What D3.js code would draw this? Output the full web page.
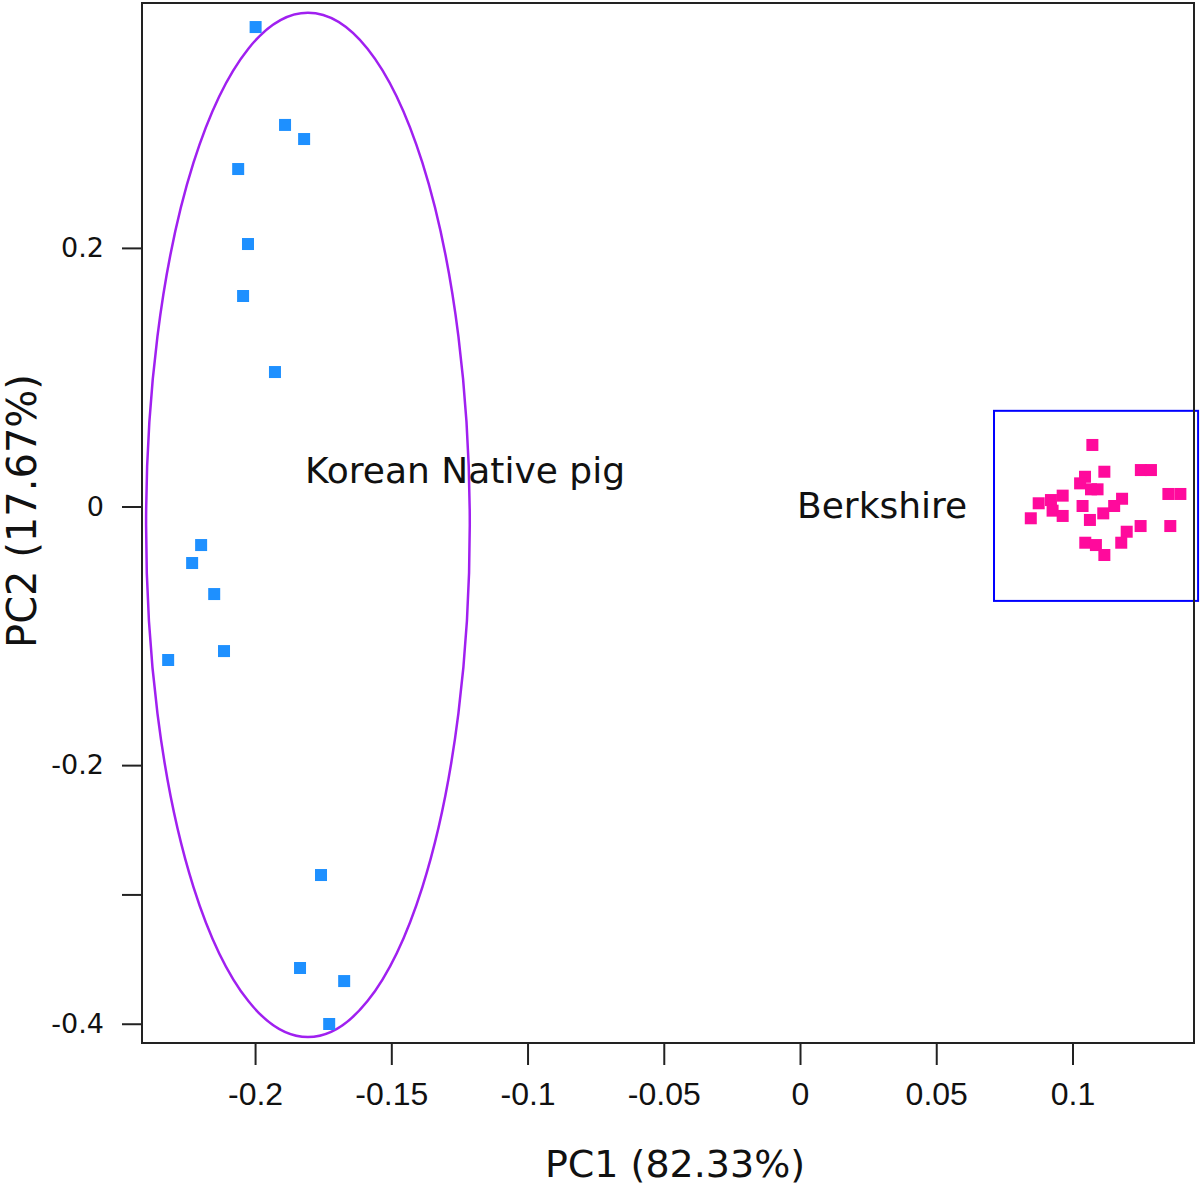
<!DOCTYPE html>
<head>
<meta charset="utf-8">
<style>
body { margin: 0; background: #fff; }
svg { display: block; }
.tick line { stroke: #222; stroke-width: 2px; }
.xaxis text { font-family: "Liberation Sans", Arial, sans-serif; font-size: 32px; fill: #111; }
.yaxis text { font-family: "DejaVu Sans", sans-serif; font-size: 27px; fill: #111; }
.title { font-family: "DejaVu Sans", sans-serif; font-size: 38px; fill: #111; }
.grp { font-family: "DejaVu Sans", sans-serif; font-size: 36px; fill: #111; }
</style>
</head>
<body>
<svg width="1200" height="1185"></svg>
<script src="https://d3js.org/d3.v7.min.js"></script>
<script>
// PCA scores, Korean Native pig
var knpPC1 = [-0.1998, -0.1890, -0.1820, -0.2062, -0.2026, -0.2044, -0.1927, -0.2198,
              -0.2231, -0.2150, -0.2114, -0.2319, -0.1758, -0.1835, -0.1673, -0.1728];
var knpPC2 = [0.3708, 0.2951, 0.2842, 0.2610, 0.2030, 0.1628, 0.1040, -0.0298,
              -0.0437, -0.0677, -0.1118, -0.1187, -0.2850, -0.3569, -0.3670, -0.4002];

// PCA scores, Berkshire
var berkPC1 = [0.1073, 0.1117, 0.1251, 0.1288, 0.1046, 0.1028, 0.1068, 0.1092, 0.1352, 0.1396,
               0.0964, 0.0921, 0.0876, 0.1182, 0.1153, 0.1037, 0.0927, 0.0964, 0.1113, 0.1064,
               0.0847, 0.1250, 0.1359, 0.1199, 0.1179, 0.1047, 0.1086, 0.1117];
var berkPC2 = [0.0476, 0.0269, 0.0282, 0.0282, 0.0230, 0.0179, 0.0133, 0.0133, 0.0097, 0.0097,
               0.0084, 0.0050, 0.0025, 0.0060, 0.0004, 0.0004, -0.0032, -0.0073, -0.0053, -0.0104,
               -0.0091, -0.0151, -0.0151, -0.0195, -0.0280, -0.0280, -0.0298, -0.0375];

// group outlines in data units: ellipse [cx, cy, rx, ry], box [x0, y0, x1, y1]
var knpEllipse = [-0.1806, -0.0142, 0.0594, 0.3961];
var berkBox = [0.0712, 0.0740, 0.1461, -0.0730];

var xTicks = [-0.2, -0.15, -0.1, -0.05, 0, 0.05, 0.1];
var xLabels = ["-0.2", "-0.15", "-0.1", "-0.05", "0", "0.05", "0.1"];
var yTicks = [0.2, 0, -0.2, -0.3, -0.4];
var yLabels = ["0.2", "0", "-0.2", "", "-0.4"];

var svg = d3.select("svg");
// plot frame edges (don't use "top", it's window.top)
var pLeft = 142, pRight = 1194, pTop = 3, pBottom = 1043;

var x = d3.scaleLinear().domain([-0.2415, 0.1446]).range([pLeft, pRight]);
var y = d3.scaleLinear().domain([0.3894, -0.4149]).range([pTop, pBottom]);

// x axis
var gx = svg.append("g").attr("class", "xaxis")
  .attr("transform", "translate(0," + (pBottom + 1) + ")")
  .call(d3.axisBottom(x).tickValues(xTicks).tickSize(21).tickPadding(17)
    .tickFormat(function(d, i) { return xLabels[i]; }));
gx.select(".domain").remove();

// y axis
var gy = svg.append("g").attr("class", "yaxis")
  .attr("transform", "translate(" + pLeft + ",0)")
  .call(d3.axisLeft(y).tickValues(yTicks).tickSize(20).tickPadding(18)
    .tickFormat(function(d, i) { return yLabels[i]; }));
gy.select(".domain").remove();

// group outlines
svg.append("ellipse")
  .attr("cx", x(knpEllipse[0])).attr("cy", y(knpEllipse[1]))
  .attr("rx", x(knpEllipse[0] + knpEllipse[2]) - x(knpEllipse[0]))
  .attr("ry", y(knpEllipse[1] - knpEllipse[3]) - y(knpEllipse[1]))
  .attr("fill", "none").attr("stroke", "#a020f0").attr("stroke-width", 2.5);

svg.append("rect")
  .attr("x", x(berkBox[0])).attr("y", y(berkBox[1]))
  .attr("width", x(berkBox[2]) - x(berkBox[0]))
  .attr("height", y(berkBox[3]) - y(berkBox[1]))
  .attr("fill", "none").attr("stroke", "#0000ff").attr("stroke-width", 2);

// plot frame
svg.append("rect")
  .attr("x", pLeft).attr("y", pTop)
  .attr("width", pRight - pLeft).attr("height", pBottom - pTop)
  .attr("fill", "none").attr("stroke", "#222").attr("stroke-width", 2);

// points
var sq = 12;
svg.append("g").selectAll("rect")
  .data(d3.range(knpPC1.length))
  .enter().append("rect")
  .attr("x", function(i) { return x(knpPC1[i]) - sq / 2; })
  .attr("y", function(i) { return y(knpPC2[i]) - sq / 2; })
  .attr("width", sq).attr("height", sq)
  .attr("fill", "#1e90ff");

svg.append("g").selectAll("rect")
  .data(d3.range(berkPC1.length))
  .enter().append("rect")
  .attr("x", function(i) { return x(berkPC1[i]) - sq / 2; })
  .attr("y", function(i) { return y(berkPC2[i]) - sq / 2; })
  .attr("width", sq).attr("height", sq)
  .attr("fill", "#ff0a9c");

// group labels
svg.append("text").attr("class", "grp")
  .attr("x", 305).attr("y", 483).text("Korean Native pig");
svg.append("text").attr("class", "grp")
  .attr("x", 797).attr("y", 518).text("Berkshire");

// axis titles
svg.append("text").attr("class", "title")
  .attr("x", 675).attr("y", 1177).attr("text-anchor", "middle")
  .text("PC1 (82.33%)");
svg.append("text").attr("class", "title")
  .attr("transform", "translate(36,511) rotate(-90)")
  .attr("text-anchor", "middle")
  .style("font-size", "40px")
  .text("PC2 (17.67%)");
</script>
</body>
